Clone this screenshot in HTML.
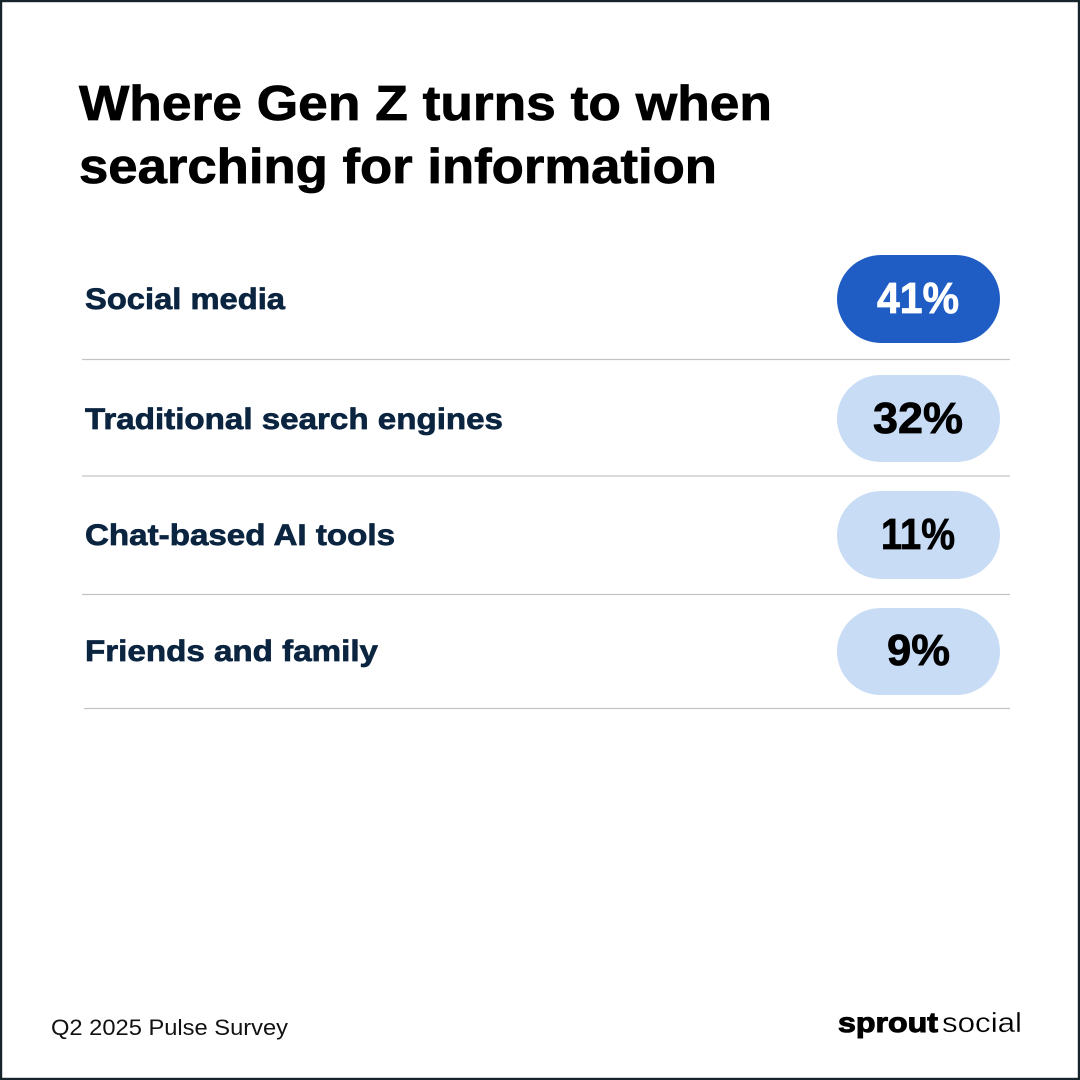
<!DOCTYPE html>
<html>
<head>
<meta charset="utf-8">
<style>
  html, body { margin: 0; padding: 0; background: #ffffff; }
  body { width: 1080px; height: 1080px; overflow: hidden; }
  svg { display: block; }
</style>
</head>
<body>
<svg width="1080" height="1080" viewBox="0 0 1080 1080" xmlns="http://www.w3.org/2000/svg">
  <rect x="0" y="0" width="1080" height="1080" fill="#ffffff"/>
  <rect x="1" y="1" width="1078" height="1078" fill="none" stroke="#17232a" stroke-width="2.4"/>

  <!-- Title -->
  <g font-family="'Liberation Sans', sans-serif" font-weight="700" fill="#000000" stroke="#000000" stroke-width="0.8" font-size="49">
    <text x="79" y="120" textLength="693" lengthAdjust="spacingAndGlyphs">Where Gen Z turns to when</text>
    <text x="79" y="183" textLength="638" lengthAdjust="spacingAndGlyphs">searching for information</text>
  </g>

  <!-- Labels -->
  <g font-family="'Liberation Sans', sans-serif" font-weight="700" fill="#0b2541" stroke="#0b2541" stroke-width="0.7" font-size="30">
    <text x="85" y="309" textLength="200" lengthAdjust="spacingAndGlyphs">Social media</text>
    <text x="85" y="429" textLength="418" lengthAdjust="spacingAndGlyphs">Traditional search engines</text>
    <text x="85" y="545" textLength="310" lengthAdjust="spacingAndGlyphs">Chat-based AI tools</text>
    <text x="85" y="661" textLength="293" lengthAdjust="spacingAndGlyphs">Friends and family</text>
  </g>

  <!-- Dividers -->
  <g stroke="#c4c4c4" stroke-width="1.3">
    <line x1="82" y1="359.5" x2="1010" y2="359.5"/>
    <line x1="82" y1="476" x2="1010" y2="476"/>
    <line x1="82" y1="594.5" x2="1010" y2="594.5"/>
    <line x1="84" y1="708.5" x2="1010" y2="708.5"/>
  </g>

  <!-- Pills -->
  <rect x="837" y="255" width="163" height="88" rx="44" ry="44" fill="#1f5dc5"/>
  <rect x="837" y="375" width="163" height="87" rx="43.5" ry="43.5" fill="#c8dcf6"/>
  <rect x="837" y="491" width="163" height="88" rx="44" ry="44" fill="#c8dcf6"/>
  <rect x="837" y="608" width="163" height="87" rx="43.5" ry="43.5" fill="#c8dcf6"/>

  <g font-family="'Liberation Sans', sans-serif" font-weight="700" font-size="44" stroke-width="0.8">
    <text x="877" y="313" textLength="82" lengthAdjust="spacingAndGlyphs" fill="#ffffff" stroke="#ffffff">41%</text>
    <text x="873" y="433" textLength="90" lengthAdjust="spacingAndGlyphs" fill="#000000" stroke="#000000">32%</text>
    <text x="881" y="549" textLength="74" lengthAdjust="spacingAndGlyphs" fill="#000000" stroke="#000000">11%</text>
    <text x="887" y="665" textLength="63" lengthAdjust="spacingAndGlyphs" fill="#000000" stroke="#000000">9%</text>
  </g>

  <!-- Footer -->
  <text x="51" y="1035" font-family="'Liberation Sans', sans-serif" font-size="22" fill="#111111" textLength="237" lengthAdjust="spacingAndGlyphs">Q2 2025 Pulse Survey</text>
  <text x="838" y="1032" font-family="'Liberation Sans', sans-serif" font-size="28" font-weight="700" fill="#000000" stroke="#000000" stroke-width="1" textLength="100" lengthAdjust="spacingAndGlyphs">sprout</text>
  <text x="942" y="1032" font-family="'Liberation Sans', sans-serif" font-size="28" font-weight="400" fill="#000000" stroke="#ffffff" stroke-width="0.3" textLength="80" lengthAdjust="spacingAndGlyphs">social</text>
</svg>
</body>
</html>
